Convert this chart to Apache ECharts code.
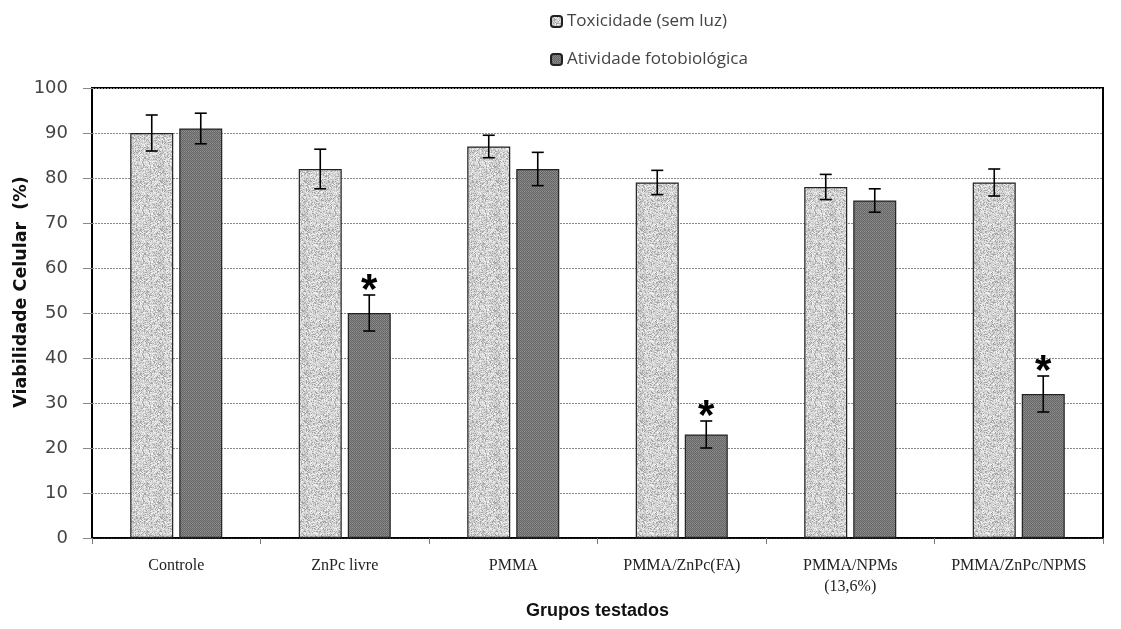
<!DOCTYPE html>
<html>
<head>
<meta charset="utf-8">
<script src="https://cdn.jsdelivr.net/npm/echarts@6/dist/echarts.min.js"></script>
<style>
  html, body { margin: 0; padding: 0; background: #fff; }
  #chart { width: 1121px; height: 629px; }
</style>
</head>
<body>
<div id="chart"></div>
<script>
// Grupos e valores de viabilidade celular (%)
const categories = ['Controle', 'ZnPc livre', 'PMMA', 'PMMA/ZnPc(FA)', 'PMMA/NPMs\n(13,6%)', 'PMMA/ZnPc/NPMS'];
const seriesNames = ['Toxicidade (sem luz)', 'Atividade fotobiológica'];
const toxicidade = [90, 82, 87, 79, 78, 79];
const toxicidadeErr = [4, 4.4, 2.5, 2.7, 2.8, 3];
const atividade = [91, 50, 82, 23, 75, 32];
const atividadeErr = [3.4, 4, 3.7, 3, 2.6, 4];
const significativo = [0, 1, 0, 1, 0, 1];
const yTicks = { min: 0, max: 100, interval: 10 };

// Texturas pontilhadas das barras (padrão determinístico)
function hash(x, y, seed) {
  let h = (x * 374761393 + y * 668265263 + seed * 2246822519) | 0;
  h = Math.imul(h ^ (h >>> 13), 1274126177);
  h = h ^ (h >>> 16);
  return ((h >>> 0) % 1000) / 1000;
}
function speckle(seed) {
  const c = document.createElement('canvas');
  c.width = 48; c.height = 48;
  const ctx = c.getContext('2d');
  const img = ctx.createImageData(48, 48);
  for (let y = 0; y < 48; y++) {
    for (let x = 0; x < 48; x++) {
      const r = hash(x, y, seed);
      let v = r < 0.2 ? 165 : (r < 0.5 ? 200 : (r < 0.82 ? 218 : 240));
      const k = (y * 48 + x) * 4;
      img.data[k] = img.data[k + 1] = img.data[k + 2] = v;
      img.data[k + 3] = 255;
    }
  }
  ctx.putImageData(img, 0, 0);
  return c;
}
function checker() {
  const c = document.createElement('canvas');
  c.width = 8; c.height = 8;
  const ctx = c.getContext('2d');
  const img = ctx.createImageData(8, 8);
  for (let y = 0; y < 8; y++) {
    for (let x = 0; x < 8; x++) {
      let v = ((x + y) % 2 === 0) ? 104 : 132;
      if (y % 4 === 3) v = ((x % 2) === 0) ? 148 : 98;
      const k = (y * 8 + x) * 4;
      img.data[k] = img.data[k + 1] = img.data[k + 2] = v;
      img.data[k + 3] = 255;
    }
  }
  ctx.putImageData(img, 0, 0);
  return c;
}
const lightFill = { image: speckle(7), repeat: 'repeat' };
const darkFill = { image: checker(), repeat: 'repeat' };

const barWidth = 43;
const pairOffset = 24.5;

function errorSeries(values, errs, offset, showStar) {
  return {
    type: 'custom',
    z: 5,
    silent: true,
    data: values.map((v, i) => [i, v, errs[i], showStar ? significativo[i] : 0]),
    renderItem: function (params, api) {
      const i = api.value(0), v = api.value(1), e = api.value(2), s = api.value(3);
      const x = api.coord([i, 0])[0] + offset;
      const yTop = api.coord([i, v + e])[1];
      const yBot = api.coord([i, v - e])[1];
      const cap = 6;
      const st = { stroke: '#000', lineWidth: 1.6 };
      const children = [
        { type: 'line', shape: { x1: x, y1: yTop, x2: x, y2: yBot }, style: st },
        { type: 'line', shape: { x1: x - cap, y1: yTop, x2: x + cap, y2: yTop }, style: st },
        { type: 'line', shape: { x1: x - cap, y1: yBot, x2: x + cap, y2: yBot }, style: st }
      ];
      if (s) {
        children.push({
          type: 'text',
          style: {
            text: '*', x: x, y: yTop - 4,
            fill: '#000', align: 'center', verticalAlign: 'middle',
            font: 'bold 42px "Liberation Sans", Arial, sans-serif'
          }
        });
      }
      return { type: 'group', children: children };
    }
  };
}

const chart = echarts.init(document.getElementById('chart'), null, { renderer: 'canvas' });
chart.setOption({
  animation: false,
  backgroundColor: '#fff',
  grid: {
    left: 92, right: 18, top: 88, bottom: 91,
    show: true, borderColor: '#000', borderWidth: 2, backgroundColor: 'transparent'
  },
  legend: {
    data: seriesNames,
    orient: 'vertical',
    left: 545, top: 8,
    itemWidth: 11, itemHeight: 11,
    itemGap: 21,
    textStyle: { fontFamily: '"Open Sans", "Noto Sans", sans-serif', fontSize: 17, color: '#444' }
  },
  xAxis: {
    type: 'category',
    data: categories,
    axisLine: { lineStyle: { color: '#000', width: 1.5 } },
    axisTick: { show: true, interval: 0, length: 6, lineStyle: { color: '#777' } },
    axisLabel: {
      interval: 0, margin: 17, color: '#222', lineHeight: 21,
      fontFamily: '"Liberation Serif", "Times New Roman", serif', fontSize: 16
    },
    name: 'Grupos testados',
    nameLocation: 'middle',
    nameGap: 60,
    nameTextStyle: { fontFamily: '"Liberation Sans", Arial, sans-serif', fontWeight: 'bold', fontSize: 18, color: '#111' }
  },
  yAxis: {
    type: 'value',
    min: yTicks.min, max: yTicks.max, interval: yTicks.interval,
    axisLine: { show: false },
    axisTick: { show: true, length: 9, lineStyle: { color: '#888' } },
    splitLine: { lineStyle: { color: '#888', type: [2, 1], width: 1 } },
    axisLabel: { margin: 24, color: '#444', fontFamily: '"DejaVu Sans", Verdana, sans-serif', fontSize: 18 }
  },
  graphic: [{
    type: 'text',
    x: 12, y: 292,
    rotation: Math.PI / 2,
    style: {
      text: 'Viabilidade Celular  (%)',
      fill: '#111', align: 'center', verticalAlign: 'top',
      font: 'bold 17.5px "DejaVu Sans", Verdana, sans-serif'
    }
  }],
  series: [
    {
      name: seriesNames[0], type: 'bar', data: toxicidade,
      barWidth: barWidth, barGap: '14%',
      itemStyle: { color: lightFill, borderColor: '#222', borderWidth: 1.2 }
    },
    {
      name: seriesNames[1], type: 'bar', data: atividade,
      barWidth: barWidth, barGap: '14%',
      itemStyle: { color: darkFill, borderColor: '#222', borderWidth: 1.2 }
    },
    errorSeries(toxicidade, toxicidadeErr, -pairOffset, false),
    errorSeries(atividade, atividadeErr, pairOffset, true)
  ]
});
</script>
</body>
</html>
